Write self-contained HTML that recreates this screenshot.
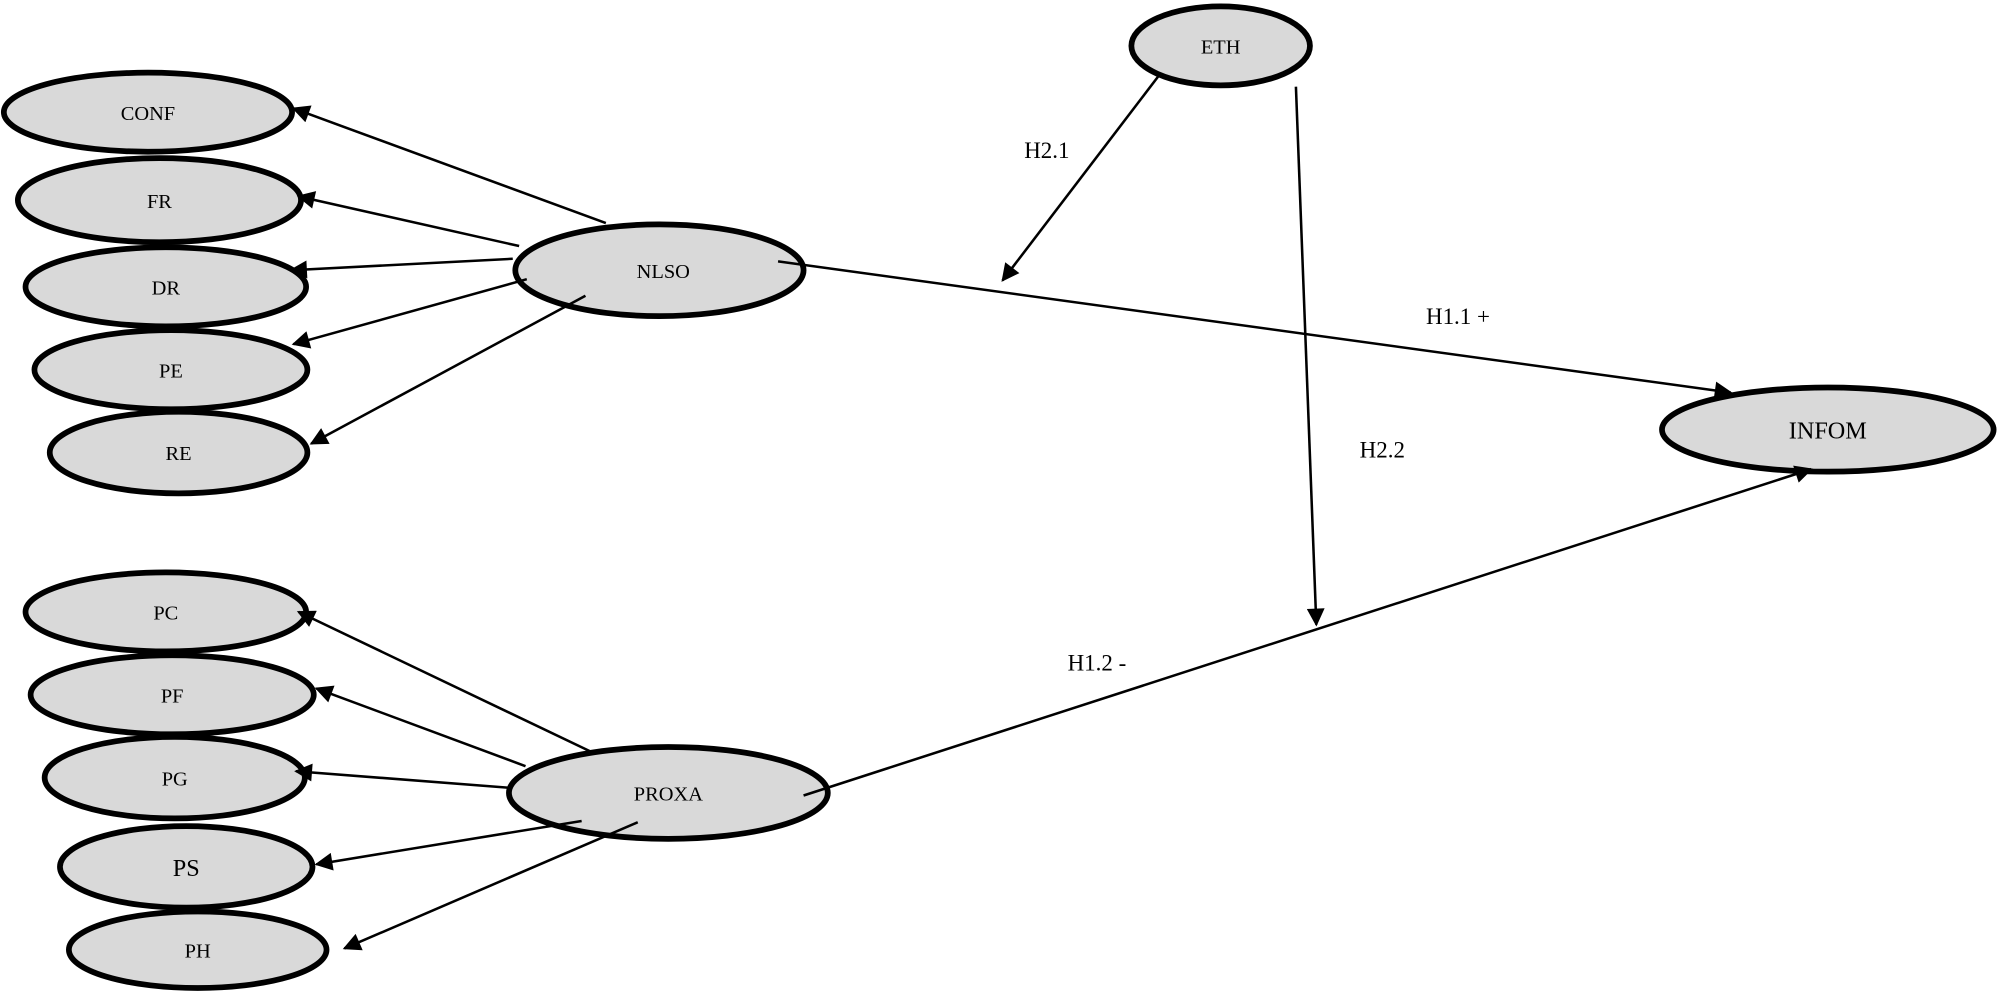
<!DOCTYPE html>
<html><head><meta charset="utf-8"><style>
html,body{margin:0;padding:0;background:#fff;}
svg{display:block;}
text{font-family:"Liberation Serif",serif;fill:#000;}
</style></head><body>
<svg width="2000" height="1002" viewBox="0 0 1568 786" preserveAspectRatio="none" xmlns="http://www.w3.org/2000/svg">
<defs>
<marker id="a" viewBox="0 0 10 10" refX="9" refY="5" markerWidth="9" markerHeight="9" markerUnits="userSpaceOnUse" orient="auto">
<path d="M0,0 L10,5 L0,10 z" fill="#000"/>
</marker>
<marker id="b" viewBox="0 0 10 10" refX="9" refY="5" markerWidth="18" markerHeight="14" markerUnits="userSpaceOnUse" orient="auto">
<path d="M0,0 L10,5 L0,10 z" fill="#000"/>
</marker>
</defs>
<g fill="#d9d9d9" stroke="#000" stroke-width="4.5">
<ellipse cx="116" cy="88" rx="113" ry="31"/>
<ellipse cx="125" cy="157" rx="111" ry="33"/>
<ellipse cx="130" cy="225" rx="110" ry="31"/>
<ellipse cx="134" cy="290" rx="107" ry="31"/>
<ellipse cx="140" cy="355" rx="101" ry="32"/>
<ellipse cx="517" cy="212" rx="113" ry="36"/>
<ellipse cx="957" cy="36" rx="70" ry="31"/>
<ellipse cx="1433" cy="337" rx="130" ry="33"/>
<ellipse cx="130" cy="480" rx="110" ry="31"/>
<ellipse cx="135" cy="545" rx="111" ry="31"/>
<ellipse cx="137" cy="610" rx="102" ry="32"/>
<ellipse cx="146" cy="680" rx="99" ry="32"/>
<ellipse cx="155" cy="745" rx="101" ry="30"/>
<ellipse cx="524" cy="622" rx="125" ry="36"/>
</g>
<g stroke="#000" stroke-width="2" fill="none" marker-end="url(#b)">
<line x1="475" y1="175" x2="230" y2="85"/>
<line x1="407" y1="193" x2="234" y2="154"/>
<line x1="402" y1="203" x2="228" y2="212"/>
<line x1="413" y1="219" x2="230" y2="270"/>
<line x1="459" y1="232" x2="244" y2="348"/>
<line x1="610" y1="205" x2="1357" y2="308"/>
<line x1="908" y1="60" x2="786" y2="220"/>
<line x1="1016" y1="68" x2="1032" y2="490"/>
<line x1="630" y1="624" x2="1420" y2="368"/>
<line x1="464" y1="590" x2="234" y2="480"/>
<line x1="412" y1="601" x2="248" y2="540"/>
<line x1="400" y1="618" x2="232" y2="605"/>
<line x1="456" y1="644" x2="248" y2="678"/>
<line x1="500" y1="645" x2="270" y2="744"/>
</g>
<g font-size="16" text-anchor="middle">
<text x="116" y="94">CONF</text>
<text x="125" y="163">FR</text>
<text x="130" y="231">DR</text>
<text x="134" y="296">PE</text>
<text x="140" y="361">RE</text>
<text x="520" y="218">NLSO</text>
<text x="957" y="42">ETH</text>
<text x="1433" y="344" font-size="19">INFOM</text>
<text x="130" y="486">PC</text>
<text x="135" y="551">PF</text>
<text x="137" y="616">PG</text>
<text x="146" y="687" font-size="19">PS</text>
<text x="155" y="751">PH</text>
<text x="524" y="628">PROXA</text>
</g>
<g font-size="18">
<text x="803" y="124">H2.1</text>
<text x="1118" y="254">H1.1 +</text>
<text x="1066" y="359">H2.2</text>
<text x="837" y="526">H1.2 -</text>
</g>
</svg>
</body></html>
